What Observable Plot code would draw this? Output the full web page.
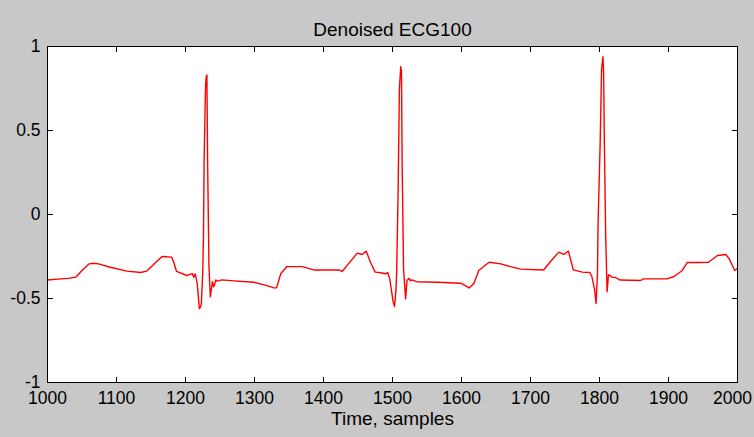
<!DOCTYPE html>
<html><head><meta charset="utf-8">
<script src="https://cdn.jsdelivr.net/npm/d3@7"></script>
<script src="https://cdn.jsdelivr.net/npm/@observablehq/plot@0.6"></script>
<style>
html,body{margin:0;padding:0;background:#c8c8c8;}
</style></head><body><div id="chart"></div>
<script>
const title = "Denoised ECG100";
const xLabel = "Time, samples";
const xTicks = [1000, 1100, 1200, 1300, 1400, 1500, 1600, 1700, 1800, 1900, 2000];
const yTicks = [-1, -0.5, 0, 0.5, 1];
const samples = [1000,1019,1030,1041,1050,1060,1067,1074,1091,1115,1135,1144,1157,1166,1180,1183,1187,1202,1207,1210,1212,1214,1217,1220,1222,1223,1225,1226,1227,1229,1230,1231,1232,1234,1236,1239,1241,1244,1246,1253,1270,1299,1318,1328,1332,1338,1347,1369,1386,1422,1427,1434,1449,1456,1462,1468,1475,1483,1490,1493,1496,1501,1503,1505,1506,1508,1510,1512,1513,1514,1516,1519,1521,1524,1526,1528,1535,1565,1599,1611,1618,1625,1640,1657,1671,1686,1719,1729,1741,1748,1755,1762,1775,1786,1789,1793,1795,1797,1798,1801,1803,1805,1806,1807,1809,1811,1813,1815,1818,1823,1830,1859,1864,1898,1908,1920,1927,1942,1958,1971,1983,1988,1996,2000];
const values = [-0.39,-0.383,-0.38,-0.373,-0.333,-0.294,-0.29,-0.294,-0.314,-0.337,-0.345,-0.337,-0.284,-0.25,-0.254,-0.284,-0.339,-0.363,-0.355,-0.353,-0.373,-0.353,-0.41,-0.56,-0.55,-0.53,-0.343,-0.135,0.32,0.76,0.82,0.83,0.33,-0.31,-0.49,-0.40,-0.43,-0.39,-0.397,-0.389,-0.395,-0.403,-0.423,-0.437,-0.437,-0.353,-0.31,-0.31,-0.33,-0.33,-0.339,-0.304,-0.23,-0.238,-0.218,-0.284,-0.343,-0.347,-0.353,-0.345,-0.383,-0.522,-0.548,-0.45,-0.35,0.1,0.75,0.88,0.85,0.3,-0.323,-0.502,-0.393,-0.38,-0.395,-0.389,-0.4,-0.403,-0.409,-0.437,-0.41,-0.333,-0.284,-0.294,-0.31,-0.325,-0.33,-0.28,-0.224,-0.238,-0.218,-0.33,-0.343,-0.345,-0.37,-0.45,-0.53,-0.36,-0.04,0.43,0.86,0.94,0.84,0.44,-0.135,-0.46,-0.36,-0.363,-0.373,-0.375,-0.39,-0.393,-0.383,-0.383,-0.369,-0.333,-0.286,-0.286,-0.284,-0.244,-0.238,-0.264,-0.333,-0.32];
const data = samples.map((t, i) => ({t, v: values[i]}));
const fmt = d => String(d);
const xInner = xTicks.slice(0, -1);
const xLast = xTicks.slice(-1);
const xMin = xTicks[0], xMax = xTicks[xTicks.length - 1];
const yMin = yTicks[0], yMax = yTicks[yTicks.length - 1];
const box = [[xMin, yMin], [xMax, yMin], [xMax, yMax], [xMin, yMax], [xMin, yMin]];
const tickLen = 5;
const tickOpts = {length: tickLen, anchor: "start", r: 0, stroke: "#000", strokeWidth: 1};
const chart = Plot.plot({
  width: 754, height: 437,
  marginLeft: 47, marginRight: 17, marginTop: 46, marginBottom: 55,
  style: {background: "#c8c8c8", fontFamily: "'Liberation Sans', Arial, sans-serif", fontSize: "17.5px", color: "black"},
  x: {domain: [xMin, xMax]},
  y: {domain: [yMin, yMax]},
  marks: [
    Plot.frame({fill: "white", stroke: "#000"}),
    Plot.line(data, {x: "t", y: "v", stroke: "red", strokeWidth: 1.4, clip: true}),
    // inward ticks on all four sides (MATLAB box style)
    Plot.vector(xTicks, {x: d => d, y: () => yMin, rotate: 0, ...tickOpts}),
    Plot.vector(xTicks, {x: d => d, y: () => yMax, rotate: 180, ...tickOpts}),
    Plot.vector(yTicks, {y: d => d, x: () => xMin, rotate: 90, ...tickOpts}),
    Plot.vector(yTicks, {y: d => d, x: () => xMax, rotate: -90, ...tickOpts}),
    Plot.line(box, {x: d => d[0], y: d => d[1], stroke: "#000", strokeWidth: 1, strokeLinecap: "square"}),
    Plot.axisX(xInner, {anchor: "bottom", tickSize: 0, tickPadding: 9, label: null, tickFormat: fmt, fill: "black"}),
    Plot.axisX(xLast, {anchor: "bottom", tickSize: 0, tickPadding: 9, dx: -5, label: null, tickFormat: fmt, fill: "black"}),
    Plot.axisY(yTicks, {anchor: "left", tickSize: 0, tickPadding: 7, label: null, tickFormat: fmt, fill: "black"}),
    Plot.text([title], {frameAnchor: "top", dy: -24, fontSize: 19, fill: "black"}),
    Plot.text([xLabel], {frameAnchor: "bottom", dy: 42, fontSize: 19, fill: "black"})
  ]
});
document.getElementById("chart").appendChild(chart);
</script></body></html>
